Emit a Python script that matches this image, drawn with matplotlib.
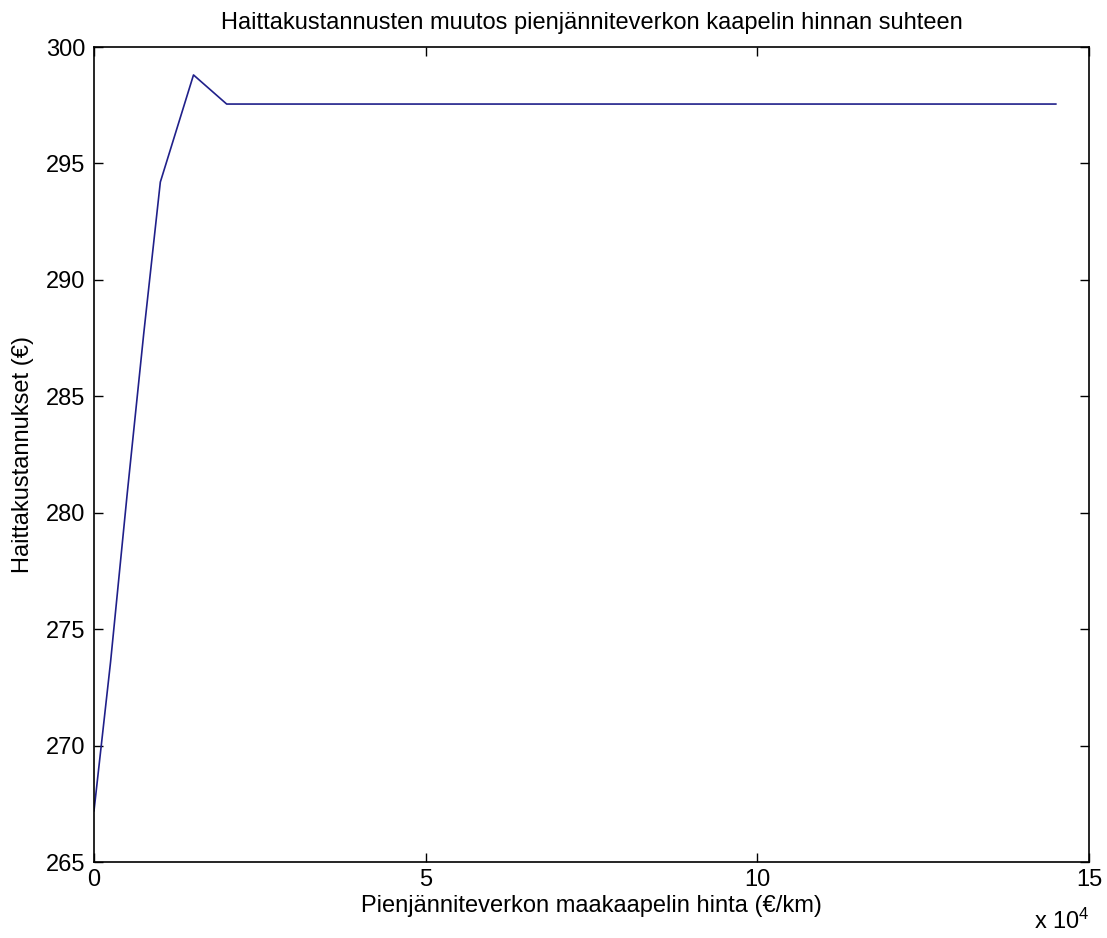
import numpy as np
import matplotlib
matplotlib.use("Agg")
import matplotlib.pyplot as plt

# Arvot luettu kuvasta (x yksikössä 1e4 €/km)
hinta = [0, 0.25, 0.5, 0.75, 1.0, 1.25, 1.5, 2.0, 4.0, 6.0, 8.0, 10.0, 12.0, 14.5]
haitta = [267.2, 273.6, 280.8, 287.7, 294.2, 296.5, 298.8, 297.55, 297.55, 297.55,
          297.55, 297.55, 297.55, 297.55]

x_ticks = [0, 5, 10, 15]
y_ticks = [265, 270, 275, 280, 285, 290, 295, 300]

plt.rcParams['font.family'] = ['Liberation Sans', 'DejaVu Sans']
plt.rcParams['mathtext.fontset'] = 'custom'
plt.rcParams['mathtext.rm'] = 'Liberation Sans'

fig = plt.figure(figsize=(11.07, 9.38), dpi=100)
ax = fig.add_axes([94 / 1107, 1 - 862 / 938, 995 / 1107, 815 / 938])

ax.plot(hinta, haitta, color="#20208a", linewidth=1.2)

ax.set_xlim(0, 15)
ax.set_ylim(265, 300)
ax.set_xticks(x_ticks)
ax.set_yticks(y_ticks)
ax.tick_params(direction="in", top=True, right=True, length=6.5, width=1,
               labelsize=17)
ax.tick_params(axis="x", pad=5)
ax.tick_params(axis="y", pad=6)
for s in ax.spines.values():
    s.set_linewidth(1.2)

ax.set_title("Haittakustannusten muutos pienjänniteverkon kaapelin hinnan suhteen",
             fontsize=17, pad=13)
ax.set_xlabel("Pienjänniteverkon maakaapelin hinta (€/km)", fontsize=17, labelpad=3)
ax.set_ylabel("Haittakustannukset (€)", fontsize=17, labelpad=9)
fig.text(1062 / 1107, 1 - 921 / 938, r"x 10$\mathrm{^{4}}$", fontsize=17,
         ha="center", va="center")

fig.savefig("out.png", dpi=100)
